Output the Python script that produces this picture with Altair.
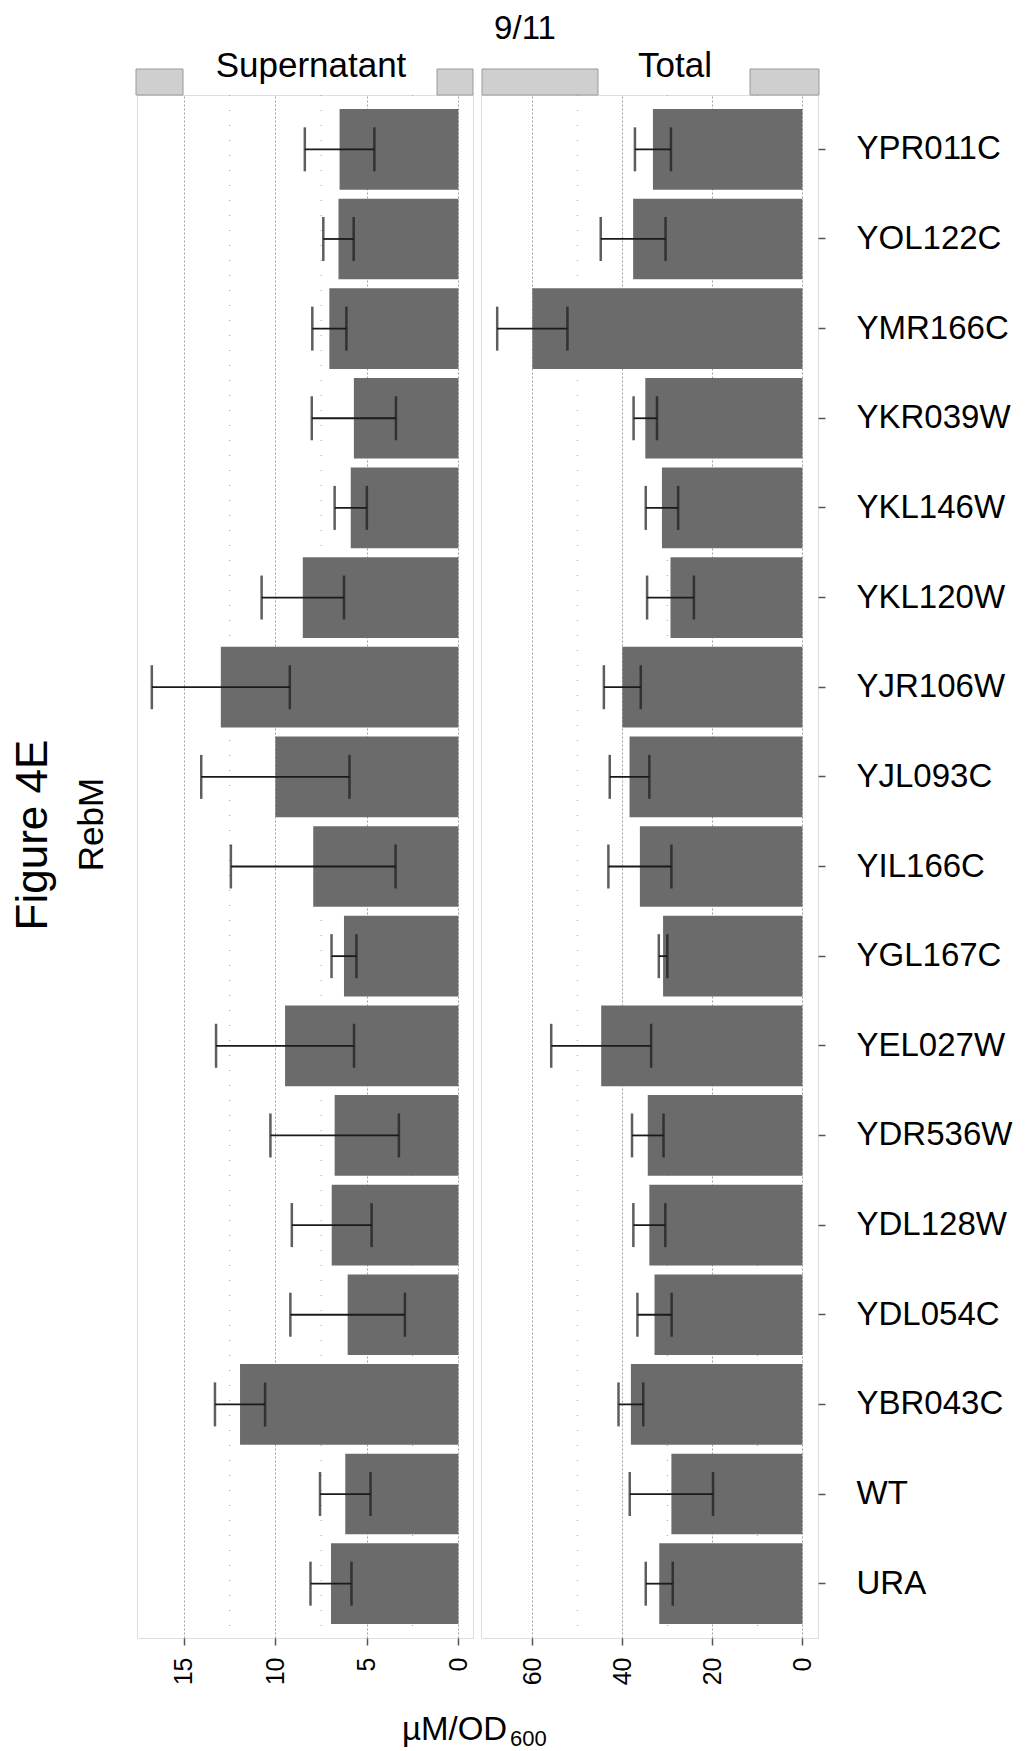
import altair as alt
import pandas as pd

genes = ["YPR011C", "YOL122C", "YMR166C", "YKR039W", "YKL146W", "YKL120W",
         "YJR106W", "YJL093C", "YIL166C", "YGL167C", "YEL027W", "YDR536W",
         "YDL128W", "YDL054C", "YBR043C", "WT", "URA"]

sup_mean = [6.49, 6.55, 7.05, 5.71, 5.88, 8.50, 12.98, 10.0, 7.93, 6.25,
            9.47, 6.76, 6.92, 6.05, 11.93, 6.18, 6.96]
sup_sd = [1.90, 0.83, 0.93, 2.30, 0.88, 2.25, 3.77, 4.05, 4.50, 0.68,
          3.77, 3.51, 2.18, 3.13, 1.37, 1.38, 1.12]

tot_mean = [33.2, 37.6, 60.0, 34.9, 31.2, 29.3, 40.0, 38.4, 36.1, 30.95,
            44.7, 34.35, 34.0, 32.85, 38.1, 29.1, 31.8]
tot_sd = [4.0, 7.2, 7.8, 2.6, 3.6, 5.2, 4.1, 4.4, 7.0, 0.95,
          11.1, 3.5, 3.55, 3.8, 2.75, 9.25, 3.0]

sup_ticks = [0, 5, 10, 15]
sup_minor = [2.5, 7.5, 12.5]
tot_ticks = [0, 20, 40, 60]
tot_minor = [10, 30, 50]

sup_domain = [-0.8, 17.56]
tot_domain = [-3.47, 71.4]

FONT = "Liberation Sans"
H = 1543
BAR = "#6b6b6b"
GRID = "#a0a0a0"
STRIP = "#cfcfcf"


def panel(means, sds, domain, ticks, minor, label, label_cx, pieces, show_y):
    df = pd.DataFrame({"gene": genes, "mean": means, "sd": sds})
    df["lo"] = df["mean"] - df["sd"]
    df["hi"] = df["mean"] + df["sd"]

    xscale = alt.Scale(domain=domain, reverse=True, nice=False, zero=False)
    yscale = alt.Scale(domain=genes, paddingInner=0.1, paddingOuter=0.156)
    xaxis = alt.Axis(values=ticks, labelAngle=270, labelFontSize=25, labelFont=FONT,
                     labelColor="black", tickSize=7, tickColor="#555555", tickWidth=1.5,
                     domain=False, title=None, grid=True, gridDash=[2, 2],
                     gridColor=GRID, gridWidth=1, labelPadding=12,
                     labelFlush=False, labelOverlap=False)
    if show_y:
        yaxis = alt.Axis(orient="right", title=None, domain=False, ticks=True,
                         tickSize=7, tickColor="#555555", tickWidth=1.5,
                         labelFontSize=33, labelFont=FONT, labelColor="black",
                         labelAlign="left", labelPadding=31, grid=False)
    else:
        yaxis = None

    minor_grid = alt.Chart(pd.DataFrame({"v": minor})).mark_rule(
        strokeDash=[1, 14], color=GRID, strokeWidth=1
    ).encode(x=alt.X("v:Q", scale=xscale, axis=xaxis))

    base = alt.Chart(df)
    ycode = alt.Y("gene:N", sort=genes, scale=yscale, axis=yaxis)
    bars = base.mark_bar(color=BAR).encode(
        x=alt.X("mean:Q", scale=xscale, axis=xaxis, stack=None),
        x2=alt.datum(0),
        y=ycode,
    )
    err = base.mark_rule(color="#1a1a1a", strokeWidth=1.8).encode(
        x=alt.X("lo:Q", scale=xscale, axis=xaxis),
        x2="hi:Q",
        y=ycode,
    )
    cap_lo = base.mark_tick(color="#1a1a1a", thickness=2.5, size=44, orient="vertical").encode(
        x=alt.X("lo:Q", scale=xscale, axis=xaxis),
        y=ycode,
    )
    cap_hi = base.mark_tick(color="#1a1a1a", thickness=2.5, size=44, orient="vertical").encode(
        x=alt.X("hi:Q", scale=xscale, axis=xaxis),
        y=ycode,
    )

    one = pd.DataFrame({"a": [0]})
    layers = [minor_grid, bars, err, cap_lo, cap_hi]
    for (a, b) in pieces:
        layers.append(
            alt.Chart(one).mark_rect(color=STRIP, stroke="#9a9a9a", strokeWidth=1).encode(
                x=alt.value(a), x2=alt.value(b), y=alt.value(-26), y2=alt.value(0)
            )
        )
    layers.append(
        alt.Chart(one).mark_text(text=label, font=FONT, fontSize=35, color="black",
                                 align="center", baseline="alphabetic").encode(
            x=alt.value(label_cx), y=alt.value(-18)
        )
    )
    return layers


one = pd.DataFrame({"a": [0]})

p1_layers = panel(sup_mean, sup_sd, sup_domain, sup_ticks, sup_minor,
                  "Supernatant", 174, [(-1, 46), (300, 336)], False)
p1_layers += [
    alt.Chart(one).mark_text(text="Figure 4E", font=FONT, fontSize=44, angle=270,
                             align="center", baseline="middle", color="black").encode(
        x=alt.value(-103), y=alt.value(740)),
    alt.Chart(one).mark_text(text="RebM", font=FONT, fontSize=35, angle=270,
                             align="center", baseline="middle", color="black").encode(
        x=alt.value(-45), y=alt.value(729.5)),
    alt.Chart(one).mark_text(text="µM/OD", font=FONT, fontSize=33, align="left",
                             baseline="alphabetic", color="black").encode(
        x=alt.value(265), y=alt.value(1645)),
    alt.Chart(one).mark_text(text="600", font=FONT, fontSize=22, align="left",
                             baseline="alphabetic", color="black").encode(
        x=alt.value(373), y=alt.value(1651)),
]
p1 = alt.layer(*p1_layers).properties(width=336, height=H)

p2_layers = panel(tot_mean, tot_sd, tot_domain, tot_ticks, tot_minor,
                  "Total", 194, [(1, 117), (269, 338)], True)
p2_layers += [
    alt.Chart(one).mark_text(text="9/11", font=FONT, fontSize=33, align="center",
                             baseline="alphabetic", color="black").encode(
        x=alt.value(44), y=alt.value(-56)),
]
p2 = alt.layer(*p2_layers).properties(width=337, height=H)

chart = alt.hconcat(p1, p2, spacing=8, bounds="flush").properties(
    padding={"left": 3, "top": 4, "right": 0, "bottom": 0}
).configure_view(stroke="#888888", strokeWidth=1.5).configure(background="white")

chart.save("out.html", embed_options={"renderer": "svg", "actions": False})
